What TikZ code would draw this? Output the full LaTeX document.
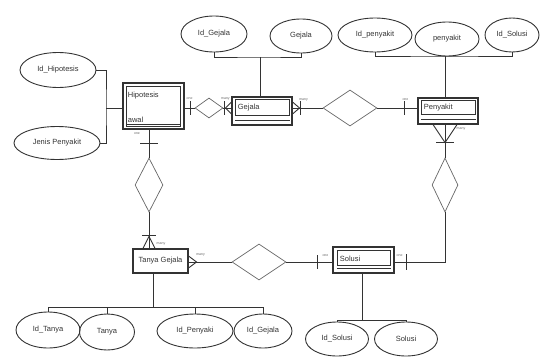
\documentclass[tikz,border=0pt]{standalone}
\usepackage{fontspec}
\setmainfont{Liberation Sans}
\usetikzlibrary{shapes.geometric, calc}

\begin{document}
\begin{tikzpicture}[x=1pt, y=-1pt, line width=0.9pt, color=black!80,
    attr/.style={ellipse, draw, inner sep=0pt, font=\fontsize{7.5}{8}\selectfont},
    rel/.style={diamond, draw=black!60, line width=0.7pt, inner sep=0pt},
    ent/.style={rectangle, draw, line width=1.1pt, inner sep=0pt},
    etext/.style={inner sep=0pt, font=\fontsize{7.5}{8}\selectfont},
    card/.style={inner sep=0pt, font=\fontsize{3.5}{4}\selectfont, text=black!60}]
  \useasboundingbox (0,0) rectangle (540,356);

  % attributes
  \node[attr, minimum width=76, minimum height=35] (idhip) at (58,70) {Id\_Hipotesis};
  \node[attr, minimum width=86, minimum height=33] (jenis) at (57,143) {Jenis Penyakit};
  \node[attr, minimum width=66, minimum height=36] (idgej) at (214,34) {Id\_Gejala};
  \node[attr, minimum width=62, minimum height=34] (gej) at (301,36) {Gejala};
  \node[attr, minimum width=74, minimum height=34] (idpen) at (375,35) {Id\_penyakit};
  \node[attr, minimum width=64, minimum height=34] (pen) at (447,39) {penyakit};
  \node[attr, minimum width=54, minimum height=34] (idsol) at (512,35) {Id\_Solusi};
  \node[attr, minimum width=64, minimum height=36] (idtanya) at (48,330) {Id\_Tanya};
  \node[attr, minimum width=55, minimum height=36] (tanya) at (107,332) {Tanya};
  \node[attr, minimum width=76, minimum height=34] (idpeny) at (195,331) {Id\_Penyaki};
  \node[attr, minimum width=58, minimum height=34] (idgej2) at (263,331) {Id\_Gejala};
  \node[attr, minimum width=63, minimum height=34] (idsol2) at (337,339) {Id\_Solusi};
  \node[attr, minimum width=63, minimum height=34] (sol2) at (406,339) {Solusi};

  % entities
  \node[ent, minimum width=61, minimum height=46] (hip) at (153.5,106) {};
  \draw[line width=0.5pt] ([shift={(4,4)}]hip.north west) rectangle ([shift={(-4,-3)}]hip.south east);
  \node[etext, anchor=west] (hiptxt) at ([shift={(5,13)}]hip.north west) {Hipotesis};
  \node[etext, anchor=west] (awaltxt) at ([shift={(5,-10)}]hip.south west) {awal};
  \draw[line width=1.1pt] ([shift={(4,-5)}]hip.south west) -- ([shift={(-4,-5)}]hip.south east);

  \node[ent, minimum width=60, minimum height=28] (gejala) at (262,111) {};
  \draw[line width=0.5pt] ([shift={(4,3)}]gejala.north west) rectangle ([shift={(-3,-10)}]gejala.south east);
  \node[etext, anchor=west] (gejtxt) at ([shift={(6,11)}]gejala.north west) {Gejala};
  \draw[line width=1.1pt] ([shift={(4,-5)}]gejala.south west) -- ([shift={(-3,-5)}]gejala.south east);

  \node[ent, minimum width=60, minimum height=26] (penyakit) at (448,111) {};
  \draw[line width=0.5pt] ([shift={(4,3)}]penyakit.north west) rectangle ([shift={(-3,-10)}]penyakit.south east);
  \node[etext, anchor=west] (pentxt) at ([shift={(6,10)}]penyakit.north west) {Penyakit};
  \draw[line width=1.1pt] ([shift={(4,-5)}]penyakit.south west) -- ([shift={(-3,-5)}]penyakit.south east);

  \node[ent, minimum width=61, minimum height=26] (solusi) at (363.5,260) {};
  \draw[line width=0.5pt] ([shift={(5,4)}]solusi.north west) rectangle ([shift={(-4,-8)}]solusi.south east);
  \node[etext, anchor=west] (soltxt) at ([shift={(7,12)}]solusi.north west) {Solusi};
  \draw[line width=1.1pt] ([shift={(5,-5)}]solusi.south west) -- ([shift={(-4,-5)}]solusi.south east);

  \node[ent, etext, minimum width=55, minimum height=24] (tanyagej) at (160.5,261) {Tanya Gejala};

  % relationships
  \node[rel, minimum width=28, minimum height=20] (r1) at (209,108) {};
  \node[rel, minimum width=54, minimum height=36] (r2) at (350,108) {};
  \node[rel, minimum width=28, minimum height=54] (r3) at (149,185) {};
  \node[rel, minimum width=26, minimum height=54] (r4) at (445,185) {};
  \node[rel, minimum width=54, minimum height=36] (r5) at (259,262) {};

  % attribute lines
  \coordinate (hipbus) at (106,108);
  \draw (idhip.east) -| (hipbus) |- (jenis.east);
  \draw (hipbus) -- (hipbus -| hip.west);
  \coordinate (gejbus) at (260,57);
  \draw (idgej.south) |- (gejbus) -| (gej.south);
  \draw (gejbus) -- (gejbus |- gejala.north);
  \coordinate (penbus) at (445,56);
  \draw (idpen.south) |- (penbus) -| (idsol.south);
  \draw (penbus) -- (penbus |- penyakit.north);
  \coordinate (tgbus) at (153,307);
  \draw (tgbus |- tanyagej.south) -- (tgbus);
  \draw (idtanya.north |- tgbus) -- (idgej2.north |- tgbus);
  \foreach \a in {idtanya, tanya, idpeny, idgej2}
    \draw (\a.north |- tgbus) -- (\a.north);
  \coordinate (solbus) at (362,320);
  \draw (solbus |- solusi.south) -- (solbus);
  \draw (idsol2.north |- solbus) -- (sol2.north |- solbus);
  \foreach \a in {idsol2, sol2}
    \draw (\a.north |- solbus) -- (\a.north);

  % relationship lines
  \draw (r1.west -| hip.east) -- (r1.west);
  \draw (r1.east) -- (r1.east -| gejala.west);
  \draw (r2.west -| gejala.east) -- (r2.west);
  \draw (r2.east) -- (r2.east -| penyakit.west);
  \draw (r3.north |- hip.south) -- (r3.north);
  \draw (r3.south) -- (r3.south |- tanyagej.north);
  \draw (r4.north |- penyakit.south) -- (r4.north);
  \draw (r5.west -| tanyagej.east) -- (r5.west);
  \draw (r5.east) -- (r5.east -| solusi.west);
  \draw (r5.east -| solusi.east) -| (r4.south);

  % cardinalities
  \draw ($(r1.west -| hip.east)+(6,-7)$) -- ++(0,14);
  \node[card] (c1) at ($(r1.west -| hip.east)+(5,-9)$) {one};
  \draw ($(r1.east -| gejala.west)+(-7,-7)$) -- ++(0,14);
  \draw ($(r1.east -| gejala.west)+(0,-6)$) -- ++(-6,6) -- ++(6,6);
  \node[card] (c2) at ($(r1.east -| gejala.west)+(-6,-9)$) {many};
  \draw ($(r2.west -| gejala.east)+(8,-7)$) -- ++(0,14);
  \draw ($(r2.west -| gejala.east)+(0,-6)$) -- ++(7,6) -- ++(-7,6);
  \node[card] (c3) at ($(r2.west -| gejala.east)+(11,-8)$) {many};
  \draw ($(r2.east -| penyakit.west)+(-13,-7)$) -- ++(0,14);
  \node[card] (c4) at ($(r2.east -| penyakit.west)+(-12,-8)$) {one};
  \draw ($(r3.north |- hip.south)+(-9,14)$) -- ++(18,0);
  \node[card] (c5) at ($(r3.north |- hip.south)+(-12,4)$) {one};
  \draw ($(r3.south |- tanyagej.north)+(-7,-13)$) -- ++(14,0);
  \draw ($(r3.south |- tanyagej.north)+(-6,0)$) -- ++(6,-12) -- ++(6,12);
  \node[card] (c6) at ($(r3.south |- tanyagej.north)+(12,-5)$) {many};
  \draw ($(r4.north |- penyakit.south)+(-12,0)$) -- ++(12,18) -- ++(12,-18);
  \draw ($(r4.north |- penyakit.south)+(-9,18)$) -- ++(18,0);
  \node[card] (c7) at ($(r4.north |- penyakit.south)+(16,4)$) {many};
  \draw ($(r5.west -| tanyagej.east)+(0,-6)$) -- ++(8,6) -- ++(-8,6);
  \node[card] (c8) at ($(r5.west -| tanyagej.east)+(12,-7)$) {many};
  \draw ($(r5.east -| solusi.west)+(-15,-7)$) -- ++(0,14);
  \node[card] (c9) at ($(r5.east -| solusi.west)+(-7,-6)$) {one};
  \draw ($(r5.east -| solusi.east)+(12,-8)$) -- ++(0,16);
  \node[card] (c10) at ($(r5.east -| solusi.east)+(5,-6)$) {one};
\end{tikzpicture}
\end{document}
